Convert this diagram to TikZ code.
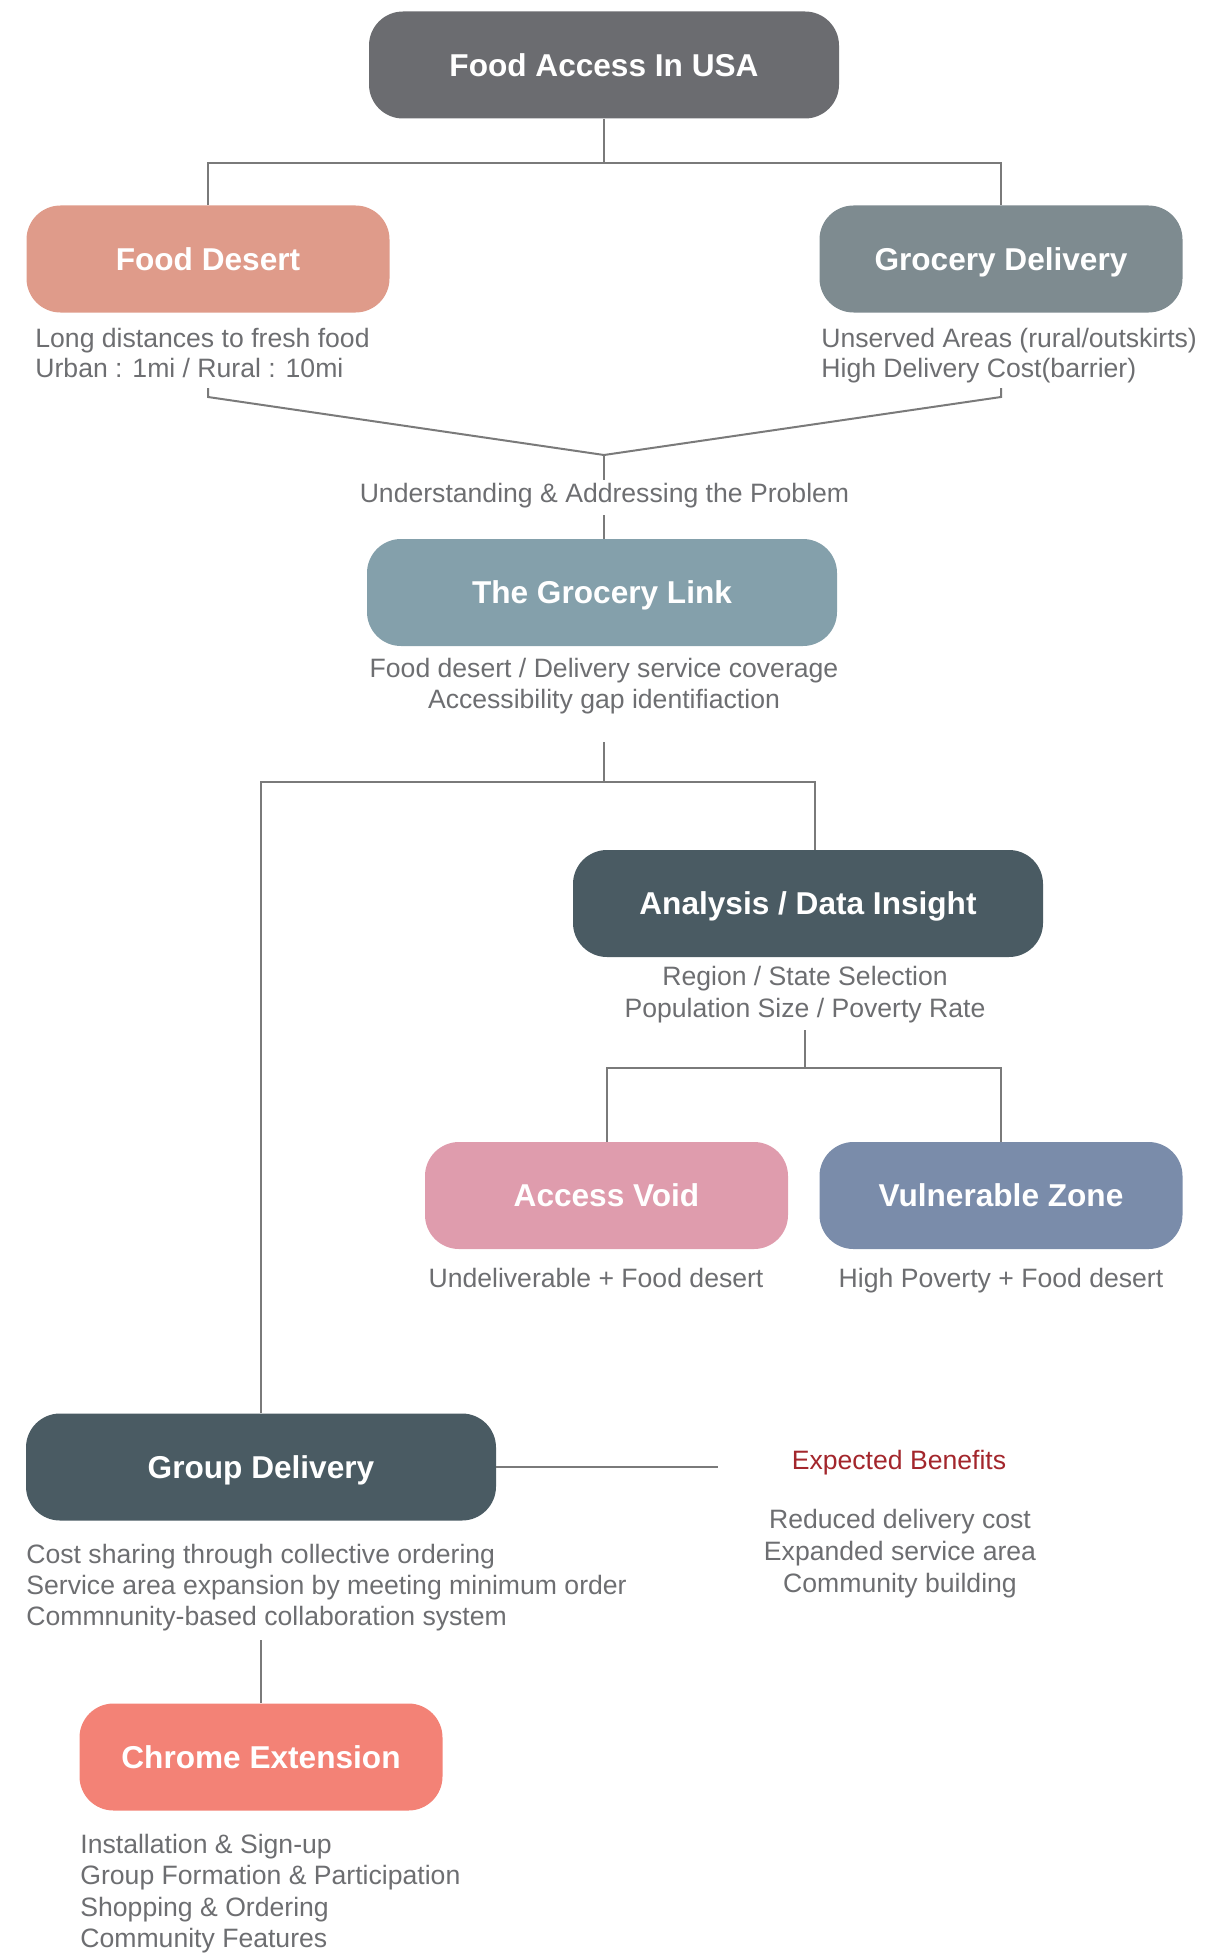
\documentclass[tikz,border=0pt]{standalone}
\usepackage{fontspec}
\setmainfont{Liberation Sans}
\definecolor{cTop}{HTML}{6B6C70}
\definecolor{cFD}{HTML}{DF9B8A}
\definecolor{cGD}{HTML}{7E8B90}
\definecolor{cGL}{HTML}{84A0AB}
\definecolor{cAn}{HTML}{4A5B63}
\definecolor{cAV}{HTML}{DF9CAD}
\definecolor{cVZ}{HTML}{7A8CAA}
\definecolor{cCE}{HTML}{F38276}
\definecolor{desc}{HTML}{6D6E71}
\definecolor{linec}{HTML}{7A7A7A}
\definecolor{benred}{HTML}{A3262C}
\begin{document}
\begin{tikzpicture}[x=0.5pt,y=-0.5pt,
  box/.style={rectangle, rounded corners=17pt, minimum height=53.5pt, inner sep=0pt,
    text=white, font=\fontsize{15.8pt}{18pt}\selectfont\bfseries, text height=11.3pt, text depth=0pt},
  wide/.style={box, minimum width=235pt},
  narrow/.style={box, minimum width=181.5pt},
  desc/.style={inner sep=0pt, text=desc, font=\fontsize{13.3pt}{15.5pt}\selectfont},
  conn/.style={draw=linec, line width=1pt}]
\useasboundingbox (0,0) rectangle (1226,1953);
% boxes
\node[wide, fill=cTop] (top) at (604,65) {Food Access In USA};
\node[narrow, fill=cFD] (fd) at (208,259) {Food Desert};
\node[narrow, fill=cGD] (gd) at (1001,259) {Grocery Delivery};
\node[wide, fill=cGL] (gl) at (602,592.5) {The Grocery Link};
\node[wide, fill=cAn] (an) at (808,903.5) {Analysis / Data Insight};
\node[narrow, fill=cAV] (av) at (606.5,1195.5) {Access Void};
\node[narrow, fill=cVZ] (vz) at (1001,1195.5) {Vulnerable Zone};
\node[wide, fill=cAn] (gp) at (261,1467) {Group Delivery};
\node[narrow, fill=cCE] (ce) at (261,1757) {Chrome Extension};
% descriptions
\node[desc, anchor=base west] (fdt1) at (35,347) {Long distances to fresh food};
\node[desc, anchor=base west] (fdt2) at (35,377) {Urban : 1mi / Rural : 10mi};
\node[desc, anchor=base west] (gdt1) at (821,347) {Unserved Areas (rural/outskirts)};
\node[desc, anchor=base west] (gdt2) at (821,377) {High Delivery Cost(barrier)};
\node[desc, anchor=base] (uap) at (604.5,502) {Understanding \& Addressing the Problem};
\node[desc, anchor=base] (glt1) at (604,677) {Food desert / Delivery service coverage};
\node[desc, anchor=base] (glt2) at (604,708) {Accessibility gap identifiaction};
\node[desc, anchor=base] (ant1) at (805,985) {Region / State Selection};
\node[desc, anchor=base] (ant2) at (805,1017) {Population Size / Poverty Rate};
\node[desc, anchor=base] (avt) at (596,1287) {Undeliverable + Food desert};
\node[desc, anchor=base] (vzt) at (1001,1287) {High Poverty + Food desert};
\node[desc, anchor=base, text=benred] (ebt) at (899,1469) {Expected Benefits};
\node[desc, anchor=base] (eb1) at (900,1528) {Reduced delivery cost};
\node[desc, anchor=base] (eb2) at (900,1560) {Expanded service area};
\node[desc, anchor=base] (eb3) at (900,1592) {Community building};
\node[desc, anchor=base west] (gpt1) at (26,1563) {Cost sharing through collective ordering};
\node[desc, anchor=base west] (gpt2) at (26,1594) {Service area expansion by meeting minimum order};
\node[desc, anchor=base west] (gpt3) at (26,1625) {Commnunity-based collaboration system};
\node[desc, anchor=base west] (cet1) at (80,1853) {Installation \& Sign-up};
\node[desc, anchor=base west] (cet2) at (80,1884) {Group Formation \& Participation};
\node[desc, anchor=base west] (cet3) at (80,1916) {Shopping \& Ordering};
\node[desc, anchor=base west] (cet4) at (80,1947) {Community Features};
% connectors
\coordinate (j1) at (604,163);
\draw[conn] (top.south) -- (j1);
\draw[conn] (fd.north) |- (j1) -| (gd.north);
\coordinate (v1) at (208,388);
\coordinate (v1b) at (208,397);
\coordinate (vm) at (604,455);
\coordinate (v2b) at (1001,397);
\coordinate (v2) at (1001,388);
\coordinate (vm2) at (604,480);
\draw[conn] (v1) -- (v1b) -- (vm) -- (v2b) -- (v2);
\draw[conn] (vm) -- (vm2);
\coordinate (u2) at (604,515);
\draw[conn] (u2) -- (u2 |- gl.north);
\coordinate (g1) at (604,742);
\coordinate (g2) at (604,782);
\coordinate (a1) at (815,782);
\draw[conn] (g1) -- (g2);
\draw[conn] (gp.north) |- (g2) -- (a1) -- (a1 |- an.north);
\coordinate (a2) at (805,1030);
\coordinate (a3) at (805,1068);
\draw[conn] (a2) -- (a3);
\draw[conn] (av.north) |- (a3) -| (vz.north);
\coordinate (eb) at (718,1467);
\draw[conn] (gp.east) -- (eb);
\coordinate (c1) at (261,1640);
\draw[conn] (c1) -- (ce.north);
\end{tikzpicture}
\end{document}
